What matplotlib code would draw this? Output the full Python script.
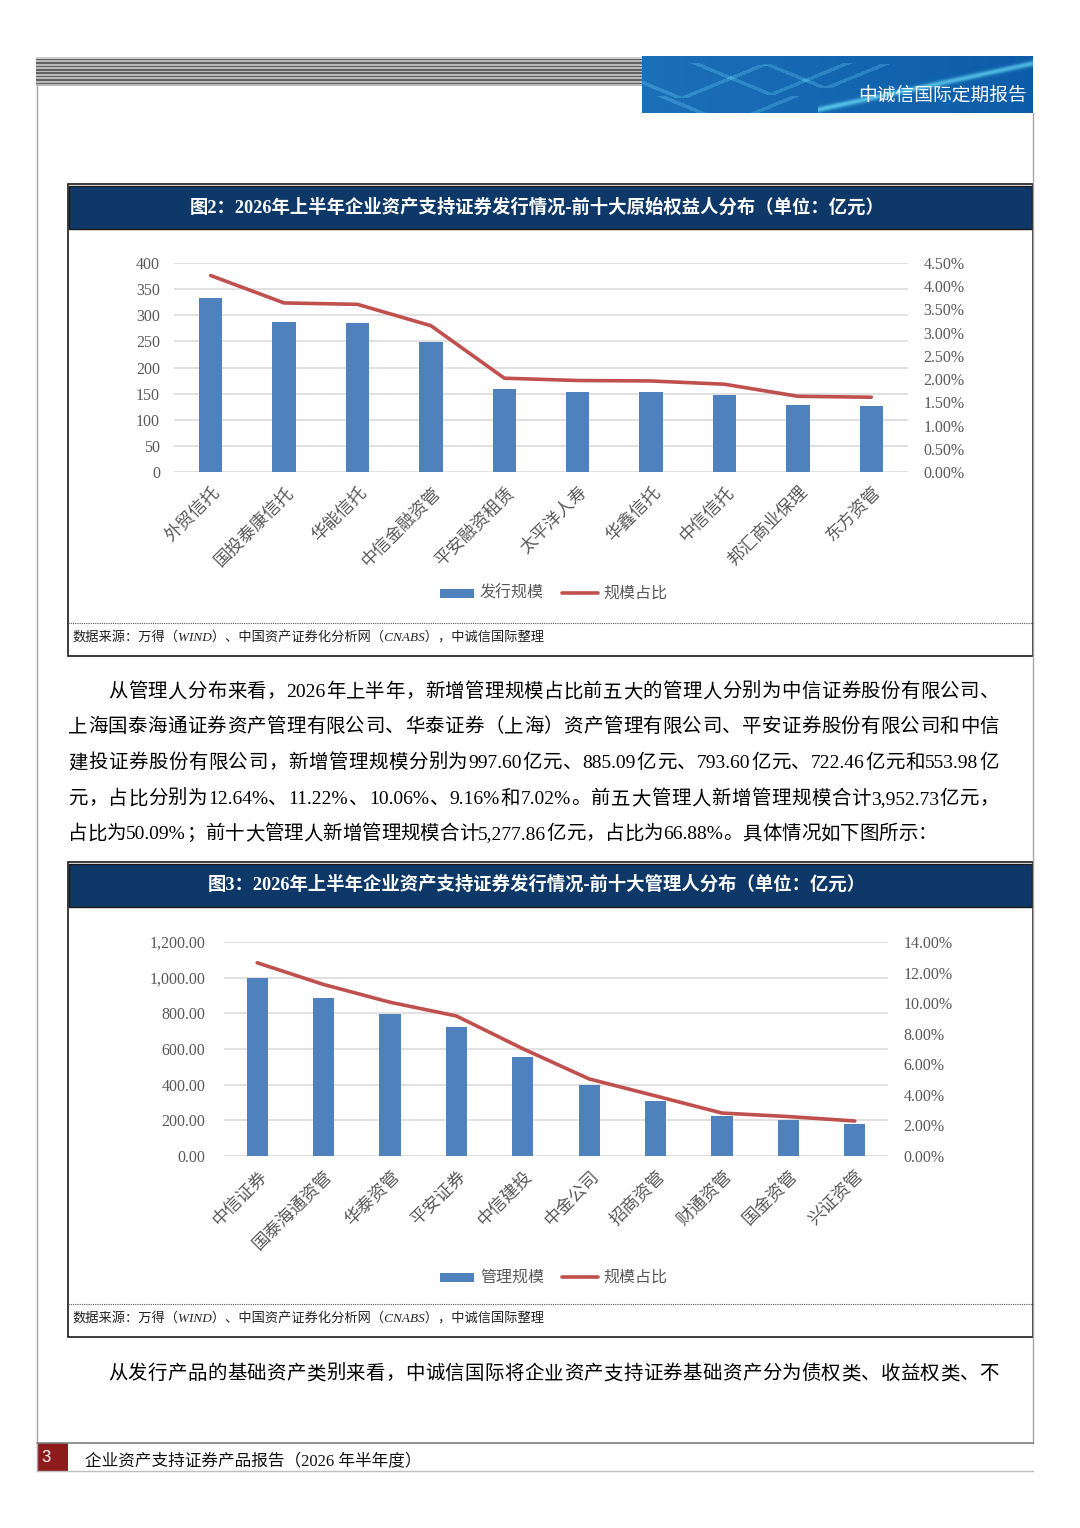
import numpy as np
import matplotlib
matplotlib.use('Agg')
import matplotlib.pyplot as plt
from matplotlib.patches import Rectangle
from matplotlib import font_manager
from matplotlib.ft2font import FT2Font
from matplotlib.ticker import FuncFormatter, MultipleLocator

W, H, DPI = 1080, 1528, 100

# ---------------- data ----------------
orig_names = ['外贸信托', '国投泰康信托', '华能信托', '中信金融资管', '平安融资租赁',
              '太平洋人寿', '华鑫信托', '中信信托', '邦汇商业保理', '东方资管']
orig_scale = [333, 287, 285, 249, 158, 154, 153, 148, 128, 126]
orig_share = [4.23, 3.64, 3.61, 3.15, 2.02, 1.97, 1.96, 1.89, 1.63, 1.61]

mgr_names = ['中信证券', '国泰海通资管', '华泰资管', '平安证券', '中信建投',
             '中金公司', '招商资管', '财通资管', '国金资管', '兴证资管']
mgr_scale = [997.60, 885.09, 793.60, 722.46, 553.98, 398, 310, 222, 204, 181]
mgr_share = [12.64, 11.22, 10.06, 9.16, 7.02, 5.04, 3.93, 2.81, 2.58, 2.29]

title2 = '图2：2026年上半年企业资产支持证券发行情况-前十大原始权益人分布（单位：亿元）'
title3 = '图3：2026年上半年企业资产支持证券发行情况-前十大管理人分布（单位：亿元）'
legend1 = ['发行规模', '规模占比']
legend2 = ['管理规模', '规模占比']
source = '数据来源：万得（WIND）、中国资产证券化分析网（CNABS），中诚信国际整理'
header = '中诚信国际定期报告'
footer = '企业资产支持证券产品报告（2026 年半年度）'
page_no = '3'
para_lines = [
    '从管理人分布来看，2026年上半年，新增管理规模占比前五大的管理人分别为中信证券股份有限公司、',
    '上海国泰海通证券资产管理有限公司、华泰证券（上海）资产管理有限公司、平安证券股份有限公司和中信',
    '建投证券股份有限公司，新增管理规模分别为997.60亿元、885.09亿元、793.60亿元、722.46亿元和553.98亿',
    '元，占比分别为12.64%、11.22%、10.06%、9.16%和7.02%。前五大管理人新增管理规模合计3,952.73亿元，',
    '占比为50.09%；前十大管理人新增管理规模合计5,277.86亿元，占比为66.88%。具体情况如下图所示：',
]
para2_line = '从发行产品的基础资产类别来看，中诚信国际将企业资产支持证券基础资产分为债权类、收益权类、不'

# ---------------- style ----------------
BAR = '#4f81bd'
LINE = '#c0504d'
NAVY = '#0d3868'
GRID = '#d9d9d9'
TXT = '#595959'
SERIF_CJK = ['Liberation Serif', 'Noto Sans CJK SC']
CJK = ['Noto Sans CJK SC', 'DejaVu Sans']
plt.rcParams['font.family'] = SERIF_CJK

fig = plt.figure(figsize=(W / DPI, H / DPI), dpi=DPI)
bg = fig.add_axes([0, 0, 1, 1], zorder=0)
bg.set_xlim(0, W)
bg.set_ylim(H, 0)
bg.axis('off')


def ax_px(x0, y0, x1, y1, **kw):
    return fig.add_axes([x0 / W, 1 - y1 / H, (x1 - x0) / W, (y1 - y0) / H], **kw)


# ---------------- header ----------------
hs = ax_px(36, 57, 642, 86, zorder=1)
stripes = np.array([[0.80]] + [[0.38] if i % 2 == 0 else [0.72] for i in range(16)])
hs.imshow(stripes, cmap='gray', vmin=0, vmax=1, aspect='auto', interpolation='nearest')
hs.axis('off')

hr = ax_px(642, 56, 1033, 113, zorder=1)
hh, ww = 57, 391
xx = np.linspace(0, 1, ww)[None, :]
yy = np.linspace(0, 1, hh)[:, None]
r = 0.05 + 0.06 * (1 - xx) + 0 * yy
g = 0.36 + 0.08 * (1 - xx) + 0 * yy
b = 0.66 + 0.06 * (1 - xx) + 0 * yy
curve = 0.95 - 1.5 * (xx - 0.45)
d = np.abs(yy - curve)
sw = np.exp(-(d / 0.05) ** 2) * (xx > 0.45) * 0.35
# faint letter shapes painted into the background image (AAA / A-2 motif)
for cx, cy, s in [(0.10, 0.45, 0.30), (0.33, 0.40, 0.28), (0.47, 0.35, 0.22), (0.22, 0.95, 0.25)]:
    left = np.abs((xx - cx) + (yy - cy - s) * 0.35) < 0.012
    right = np.abs((xx - cx) - (yy - cy - s) * 0.35) < 0.012
    inside = (yy > cy - s) & (yy < cy + s)
    sw = sw + 0.12 * ((left | right) & inside)
img = np.clip(np.dstack([r + sw * 0.7, g + sw, b + sw * 0.6]), 0, 1)
hr.imshow(img, aspect='auto', extent=(0, 1, 1, 0))
hr.set_xlim(0, 1)
hr.set_ylim(1, 0)
hr.axis('off')
hr.text(0.985, 0.68, header, fontsize=13.5, color='white', family=CJK, ha='right', va='center')

# page borders
bg.plot([37, 37], [86, 1471], color='#a6a6a6', lw=1)
bg.plot([1033, 1033], [113, 1443], color='#a6a6a6', lw=1)

# ---------------- justified text helper ----------------
lib_path = font_manager.findfont(font_manager.FontProperties(family='Liberation Serif'))
cjk_path = font_manager.findfont(font_manager.FontProperties(family='Noto Sans CJK SC'))
ft_lib = FT2Font(lib_path)
ft_cjk = FT2Font(cjk_path)
lib_chars = set(ft_lib.get_charmap().keys())


def advance(ch, size):
    is_lib = ord(ch) in lib_chars
    ft = ft_lib if is_lib else ft_cjk
    ft.set_size(size, DPI)
    gl = ft.load_char(ord(ch))
    return gl.linearHoriAdvance / 65536.0, is_lib


def draw_text_line(text, x0, x1, y_center, size, justify=True, color='#000000'):
    tokens = []
    for ch in text:
        a, is_lib = advance(ch, size)
        if is_lib and tokens and tokens[-1][2]:
            tokens[-1][0] += ch
            tokens[-1][1] += a
        else:
            tokens.append([ch, a, is_lib])
    total = sum(t[1] for t in tokens)
    gap = (x1 - x0 - total) / (len(tokens) - 1) if (justify and len(tokens) > 1) else 0
    yb = y_center + size * DPI / 72 * 0.37
    x = x0
    for s, a, is_lib in tokens:
        bg.text(x, yb, s, fontsize=size, ha='left', va='baseline', color=color,
                family='Liberation Serif' if is_lib else 'Noto Sans CJK SC')
        x += a + gap


# ---------------- figure boxes ----------------
def figure_box(y_top, y_bottom, title, y_dot):
    bg.add_patch(Rectangle((68, y_top), 965, y_bottom - y_top, fill=False, ec='#1a1a1a', lw=1.2))
    bg.add_patch(Rectangle((69, y_top + 2), 963, 43, fc=NAVY, ec='#1a1a1a', lw=1.0))
    bg.text(537, y_top + 23, title, fontsize=13.2, color='white', weight='bold',
            ha='center', va='center', family=SERIF_CJK)
    bg.plot([68, 1033], [y_dot, y_dot], color='#555555', lw=0.8, ls=(0, (1, 1)))
    bg.text(72, y_dot + 15, source, fontsize=9.5, style='italic', color='#222222',
            ha='left', va='center', family=SERIF_CJK)


figure_box(184, 656, title2, 623)
figure_box(862, 1337, title3, 1304)


def combo_chart(box, names, vals, shares, ylim, ystep, yfmt, lpad, rlim, rstep, labels, leg_y):
    ax = ax_px(*box, zorder=2)
    x = np.arange(len(names))
    ax.bar(x, vals, width=0.32, color=BAR, zorder=2)
    ax.set_xlim(-0.5, len(names) - 0.5)
    ax.set_ylim(0, ylim)
    ax.yaxis.set_major_locator(MultipleLocator(ystep))
    ax.yaxis.set_major_formatter(FuncFormatter(yfmt))
    ax.grid(axis='y', color=GRID, lw=1.1, zorder=0)
    ax.set_axisbelow(True)
    for sp in ax.spines.values():
        sp.set_visible(False)
    ax.tick_params(axis='y', length=0, pad=lpad, labelsize=11.5, labelcolor=TXT)
    ax.set_xticks(x)
    ax.set_xticklabels(names, rotation=45, ha='right', rotation_mode='anchor',
                       fontsize=12.5, color=TXT, family=CJK)
    ax.tick_params(axis='x', length=0, pad=8)
    ax.patch.set_alpha(0)

    ax2 = ax.twinx()
    ax2.plot(x, shares, color=LINE, lw=2.6, solid_capstyle='round', zorder=3)
    ax2.set_ylim(0, rlim)
    ax2.yaxis.set_major_locator(MultipleLocator(rstep))
    ax2.yaxis.set_major_formatter(FuncFormatter(lambda v, p: f'{v:.2f}%'))
    for sp in ax2.spines.values():
        sp.set_visible(False)
    ax2.tick_params(axis='y', length=0, pad=11, labelsize=11.5, labelcolor=TXT)

    # legend
    bg.add_patch(Rectangle((440, leg_y - 4.5), 34, 9, fc=BAR, ec='none'))
    bg.text(480, leg_y, labels[0], fontsize=11.5, color=TXT, ha='left', va='center', family=CJK)
    bg.plot([562, 598], [leg_y, leg_y], color=LINE, lw=2.6, solid_capstyle='round')
    bg.text(603, leg_y, labels[1], fontsize=11.5, color=TXT, ha='left', va='center', family=CJK)
    return ax


combo_chart((174, 263, 908, 472), orig_names, orig_scale, orig_share, 400, 50,
            lambda v, p: f'{v:.0f}', 10, 4.5, 0.5, legend1, 593)
combo_chart((224, 942, 888, 1156), mgr_names, mgr_scale, mgr_share, 1200, 200,
            lambda v, p: f'{v:,.2f}', 13.5, 14, 2, legend2, 1277)

# ---------------- paragraphs ----------------
ys = [690, 725, 761, 797, 832]
for i, (line, yc) in enumerate(zip(para_lines, ys)):
    x0 = 108 if i == 0 else 68
    draw_text_line(line, x0, 999, yc, 14, justify=(i < len(para_lines) - 1))
draw_text_line(para2_line, 108, 999, 1372, 14, justify=True)

# ---------------- footer ----------------
bg.plot([37, 1033], [1443, 1443], color='#808080', lw=1.2)
bg.plot([37, 1033], [1471, 1471], color='#bfbfbf', lw=1)
bg.add_patch(Rectangle((37, 1443), 31, 28, fc='#8e1b1b', ec='none'))
bg.text(46, 1457, page_no, fontsize=12, color='white', ha='center', va='center', family='Liberation Sans')
bg.text(85, 1461, footer, fontsize=12, color='#111111', ha='left', va='center', family=SERIF_CJK)

fig.savefig('out.png', dpi=DPI)
